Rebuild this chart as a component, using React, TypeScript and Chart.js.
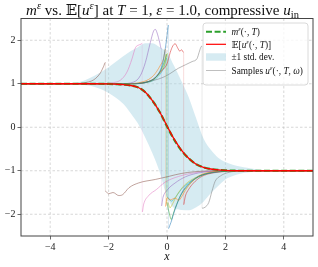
import React, { useEffect, useRef } from 'react';
import { Chart, registerables } from 'chart.js';

Chart.register(...registerables);

// ---------- data ----------
const xRange = [-5, 5];
const yRange = [-2.5, 2.5];
const xTicks = [-4, -2, 0, 2, 4];
const yTicks = [-2, -1, 0, 1, 2];

// mean E[u^eps(.,T)] and m^eps(.,T)
const meanX = [-5, -2.5, -2, -1.75, -1.5, -1.25, -1, -0.75, -0.5, -0.25, 0, 0.25, 0.5, 0.75, 1, 1.25, 1.5, 1.75, 2, 2.5, 5];
const meanY = [1, 1, 0.997, 0.99, 0.98, 0.96, 0.92, 0.81, 0.61, 0.35, 0.03, -0.28, -0.53, -0.72, -0.85, -0.92, -0.96, -0.98, -0.99, -1, -1];
const mEpsY = [1, 1, 0.997, 0.99, 0.98, 0.96, 0.92, 0.81, 0.61, 0.35, 0.02, -0.29, -0.54, -0.72, -0.85, -0.92, -0.96, -0.98, -0.99, -1, -1];

// +-1 std band
const bandX = [-5, -3.5, -3, -2.5, -2, -1.5, -1.25, -1, -0.75, -0.5, -0.25, 0, 0.25, 0.5, 0.75, 1, 1.25, 1.5, 1.75, 2, 2.25, 2.5, 2.75, 3, 3.5, 5];
const bandUpper = [1, 1, 1.04, 1.18, 1.38, 1.63, 1.75, 1.84, 1.93, 1.93, 1.84, 1.72, 1.4, 1.05, 0.68, 0.2, -0.26, -0.52, -0.7, -0.8, -0.86, -0.9, -0.93, -0.96, -0.995, -1];
const bandLower = [1, 1, 0.98, 0.93, 0.79, 0.54, 0.33, 0.09, -0.23, -0.6, -1.03, -1.6, -1.86, -1.9, -1.91, -1.84, -1.71, -1.52, -1.35, -1.2, -1.12, -1.07, -1.04, -1.02, -1, -1];

// sample paths u^eps(.,T,omega) as [x, y] pairs
const sampleBlue: [number, number][] = [[-5, 1], [-1.3, 1], [-0.68, 1.04], [-0.34, 1.19], [-0.17, 1.42], [-0.06, 1.8], [0, 2.1], [0.05, 2.35], [0.05, -2.33], [0.1, -2.25], [0.17, -2.12], [0.23, -1.98], [0.34, -1.77], [0.51, -1.5], [0.74, -1.3], [1.08, -1.13], [1.5, -1.05], [2, -1.01], [2.5, -1], [5, -1]];
const sampleOrange: [number, number][] = [[-5, 1], [-1.5, 1], [-0.8, 1.05], [-0.46, 1.19], [-0.23, 1.42], [-0.12, 1.57], [-0.05, 1.8], [-0.05, -1.82], [-0.02, -1.7], [0, -1.62], [0.11, -1.67], [0.28, -1.63], [0.4, -1.68], [0.5, -1.6], [0.63, -1.45], [0.86, -1.25], [1.14, -1.1], [1.5, -1.03], [2, -1.01], [2.5, -1], [5, -1]];
const sampleGreen: [number, number][] = [[-5, 1], [-1.4, 1], [-0.7, 1.04], [-0.35, 1.17], [-0.15, 1.4], [-0.05, 1.6], [-0.02, 1.68], [-0.02, -1.72], [0.06, -1.93], [0.15, -2.12], [0.2, -2.02], [0.28, -1.86], [0.46, -1.58], [0.7, -1.35], [1.03, -1.16], [1.4, -1.06], [2, -1.01], [2.5, -1], [5, -1]];
const sampleRed: [number, number][] = [[-5, 1], [-1.2, 1], [-0.46, 1.11], [-0.23, 1.27], [0, 1.46], [0.11, 1.72], [0.2, 1.87], [0.28, 1.92], [0.36, 1.83], [0.44, 1.75], [0.5, 1.78], [0.57, 1.72], [0.57, -1.78], [0.6, -1.68], [0.63, -1.58], [0.74, -1.43], [0.91, -1.28], [1.14, -1.15], [1.43, -1.07], [1.8, -1.03], [2.3, -1], [5, -1]];
const samplePurple: [number, number][] = [[-5, 1], [-1.6, 1], [-1.14, 1.04], [-0.91, 1.19], [-0.74, 1.49], [-0.57, 1.95], [-0.46, 2.21], [-0.4, 2.25], [-0.34, 2.17], [-0.25, 1.95], [-0.19, 1.8], [-0.19, -1.81], [-0.14, -1.62], [0, -1.45], [0.28, -1.28], [0.63, -1.14], [1.08, -1.05], [1.6, -1.01], [2.2, -1], [5, -1]];
const sampleBrown: [number, number][] = [[-5, 1], [-3.2, 1], [-2.86, 1.02], [-2.51, 1.09], [-2.28, 1.25], [-2.17, 1.4], [-2.11, 1.49], [-2.11, -1.47], [-2, -1.53], [-1.85, -1.5], [-1.65, -1.57], [-1.52, -1.55], [-1.3, -1.39], [-0.97, -1.28], [-0.4, -1.2], [0, -1.14], [0.3, -1.09], [0.7, -1.04], [1.2, -1.01], [2, -1], [5, -1]];
const samplePink: [number, number][] = [[-5, 1], [-2.2, 1], [-1.9, 1.02], [-1.6, 1.08], [-1.37, 1.27], [-1.2, 1.57], [-1.08, 1.83], [-0.97, 1.89], [-0.89, 1.91], [-0.85, 1.93], [-0.85, -1.95], [-0.8, -1.77], [-0.64, -1.58], [-0.36, -1.43], [-0.06, -1.26], [0.4, -1.13], [0.9, -1.05], [1.4, -1.01], [2, -1], [5, -1]];
const sampleGray: [number, number][] = [[-5, 1], [-1.2, 1], [-0.5, 1.07], [-0.06, 1.17], [0.4, 1.36], [0.86, 1.51], [1.03, 1.58], [1.1, 1.72], [1.16, 1.84], [1.2, 1.87], [1.2, -1.86], [1.3, -1.84], [1.43, -1.73], [1.54, -1.47], [1.65, -1.24], [1.83, -1.12], [2.05, -1.05], [2.35, -1.01], [2.8, -1], [5, -1]];
const sampleOlive: [number, number][] = [[-5, 1], [-1.3, 1], [-0.6, 1.05], [-0.3, 1.2], [-0.1, 1.42], [0.02, 1.7], [0.02, -1.72], [0.1, -1.85], [0.2, -1.75], [0.35, -1.55], [0.6, -1.33], [1, -1.15], [1.5, -1.04], [2.2, -1], [5, -1]];
const sampleCyan: [number, number][] = [[-5, 1], [-1.3, 1], [-0.6, 1.04], [-0.3, 1.17], [-0.1, 1.38], [0, 1.6], [0, -1.6], [0.15, -1.7], [0.3, -1.6], [0.5, -1.42], [0.8, -1.25], [1.2, -1.1], [1.7, -1.02], [2.3, -1], [5, -1]];

const samples = [
  { pts: sampleBlue, rgb: '31,119,180' },
  { pts: sampleOrange, rgb: '255,127,14' },
  { pts: sampleGreen, rgb: '44,160,44' },
  { pts: sampleRed, rgb: '214,39,40' },
  { pts: samplePurple, rgb: '148,103,189' },
  { pts: sampleBrown, rgb: '140,86,75' },
  { pts: samplePink, rgb: '227,119,194' },
  { pts: sampleGray, rgb: '127,127,127' },
  { pts: sampleOlive, rgb: '188,189,34' },
  { pts: sampleCyan, rgb: '23,190,207' },
];

// ---------- rich text helper ----------
type Seg = { t: string; it?: boolean; sup?: boolean; sub?: boolean };
const SERIF = '"Liberation Serif", "DejaVu Serif", serif';
const fontFor = (s: Seg, size: number) =>
  `${s.it ? 'italic ' : ''}${s.sup || s.sub ? size * 0.7 : size}px ${SERIF}`;
function measureRich(ctx: CanvasRenderingContext2D, segs: Seg[], size: number) {
  let w = 0;
  for (const s of segs) {
    ctx.font = fontFor(s, size);
    w += ctx.measureText(s.t).width;
  }
  return w;
}
function drawRich(ctx: CanvasRenderingContext2D, segs: Seg[], x: number, y: number, size: number) {
  let cx = x;
  ctx.textBaseline = 'alphabetic';
  ctx.textAlign = 'left';
  for (const s of segs) {
    ctx.font = fontFor(s, size);
    const dy = s.sup ? -size * 0.4 : s.sub ? size * 0.22 : 0;
    ctx.fillText(s.t, cx, y + dy);
    cx += ctx.measureText(s.t).width;
  }
}

const titleSegs: Seg[] = [
  { t: 'm', it: true }, { t: 'ε', it: true, sup: true }, { t: ' vs. 𝔼[' }, { t: 'u', it: true },
  { t: 'ε', it: true, sup: true }, { t: '] at ' }, { t: 'T', it: true }, { t: ' = 1, ' },
  { t: 'ε', it: true }, { t: ' = 1.0, compressive ' }, { t: 'u', it: true }, { t: 'in', sub: true },
];
const legendItems: { segs: Seg[]; kind: string }[] = [
  { kind: 'dash', segs: [{ t: 'm', it: true }, { t: 'ε', it: true, sup: true }, { t: '(·, ' }, { t: 'T', it: true }, { t: ')' }] },
  { kind: 'red', segs: [{ t: '𝔼[' }, { t: 'u', it: true }, { t: 'ε', it: true, sup: true }, { t: '(·, ' }, { t: 'T', it: true }, { t: ')]' }] },
  { kind: 'band', segs: [{ t: '±1 std. dev.' }] },
  { kind: 'sample', segs: [{ t: 'Samples ' }, { t: 'u', it: true }, { t: 'ε', it: true, sup: true }, { t: '(·, ' }, { t: 'T', it: true }, { t: ', ' }, { t: 'ω', it: true }, { t: ')' }] },
];

const fmt = (v: number) => (v < 0 ? '\u2212' + Math.abs(v) : String(v));

export default function App() {
  const ref = useRef<HTMLCanvasElement | null>(null);
  useEffect(() => {
    const canvas = ref.current;
    if (!canvas) return;
    const pts = (xs: number[], ys: number[]) => xs.map((x, i) => ({ x, y: ys[i] }));

    const decor = {
      id: 'decor',
      beforeDatasetsDraw(chart: any) {
        const { ctx, chartArea: a, scales } = chart;
        ctx.save();
        ctx.strokeStyle = 'rgba(170,170,170,0.6)';
        ctx.lineWidth = 0.8;
        ctx.setLineDash([2.5, 2]);
        for (const v of xTicks) {
          const px = scales.x.getPixelForValue(v);
          ctx.beginPath(); ctx.moveTo(px, a.top); ctx.lineTo(px, a.bottom); ctx.stroke();
        }
        for (const v of yTicks) {
          const py = scales.y.getPixelForValue(v);
          ctx.beginPath(); ctx.moveTo(a.left, py); ctx.lineTo(a.right, py); ctx.stroke();
        }
        ctx.restore();
      },
      afterDatasetsDraw(chart: any) {
        const { ctx, chartArea: a } = chart;
        ctx.save();
        // frame
        ctx.strokeStyle = '#444';
        ctx.lineWidth = 1;
        ctx.setLineDash([]);
        ctx.strokeRect(a.left, a.top, a.right - a.left, a.bottom - a.top);
        // title
        ctx.fillStyle = '#111';
        const base = 13;
        const w0 = measureRich(ctx, titleSegs, base);
        const size = Math.min(15, base * (285 / w0));
        const tw = measureRich(ctx, titleSegs, size);
        drawRich(ctx, titleSegs, 162.5 - tw / 2, 14.5, size);
        // x label
        ctx.font = `italic 12px ${SERIF}`;
        ctx.textAlign = 'center';
        ctx.textBaseline = 'alphabetic';
        ctx.fillText('x', (a.left + a.right) / 2, 260);
        // legend
        const bx = 203, by = 23, bw = 105, bh = 62, r = 3;
        ctx.beginPath();
        ctx.moveTo(bx + r, by);
        ctx.arcTo(bx + bw, by, bx + bw, by + bh, r);
        ctx.arcTo(bx + bw, by + bh, bx, by + bh, r);
        ctx.arcTo(bx, by + bh, bx, by, r);
        ctx.arcTo(bx, by, bx + bw, by, r);
        ctx.closePath();
        ctx.fillStyle = 'rgba(255,255,255,0.8)';
        ctx.fill();
        ctx.strokeStyle = '#d0d0d0';
        ctx.lineWidth = 0.8;
        ctx.stroke();
        const rowY = [31.7, 44.3, 57, 70.5];
        legendItems.forEach((it, i) => {
          const y = rowY[i];
          ctx.save();
          if (it.kind === 'dash') {
            ctx.strokeStyle = '#2ca02c'; ctx.lineWidth = 2; ctx.setLineDash([6, 2.6]);
            ctx.beginPath(); ctx.moveTo(206, y); ctx.lineTo(226, y); ctx.stroke();
          } else if (it.kind === 'red') {
            ctx.strokeStyle = 'red'; ctx.lineWidth = 1.2;
            ctx.beginPath(); ctx.moveTo(206, y); ctx.lineTo(226, y); ctx.stroke();
          } else if (it.kind === 'band') {
            ctx.fillStyle = 'rgba(173,216,230,0.5)';
            ctx.fillRect(206, y - 3.7, 20, 7.4);
          } else {
            ctx.strokeStyle = 'rgba(128,128,128,0.5)'; ctx.lineWidth = 1;
            ctx.beginPath(); ctx.moveTo(206, y); ctx.lineTo(226, y); ctx.stroke();
          }
          ctx.restore();
          ctx.fillStyle = '#111';
          drawRich(ctx, it.segs, 231.5, y + 3.2, 9.3);
        });
        ctx.restore();
      },
    };

    const sampleSets = samples.map((s) => ({
      label: 'sample',
      data: s.pts.map(([x, y]) => ({ x, y })),
      borderColor: `rgba(${s.rgb},0.6)`,
      borderWidth: 0.9,
      pointRadius: 0,
      fill: false,
      cubicInterpolationMode: 'monotone' as const,
      segment: {
        borderColor: (c: any) => (c.p0.parsed.x === c.p1.parsed.x ? `rgba(${s.rgb},0.18)` : undefined),
      },
    }));

    const chart = new Chart(canvas, {
      type: 'line',
      data: {
        datasets: [
          { label: 'mean', data: pts(meanX, meanY), borderColor: 'red', borderWidth: 1.3, pointRadius: 0, fill: false, cubicInterpolationMode: 'monotone' },
          { label: 'm', data: pts(meanX, mEpsY), borderColor: '#2ca02c', borderWidth: 2.2, borderDash: [6, 2.6], pointRadius: 0, fill: false, cubicInterpolationMode: 'monotone' },
          ...sampleSets,
          { label: 'upper', data: pts(bandX, bandUpper), borderColor: 'transparent', borderWidth: 0, pointRadius: 0, fill: '+1', backgroundColor: 'rgba(173,216,230,0.5)', cubicInterpolationMode: 'monotone' },
          { label: 'lower', data: pts(bandX, bandLower), borderColor: 'transparent', borderWidth: 0, pointRadius: 0, fill: false, cubicInterpolationMode: 'monotone' },
        ] as any,
      },
      options: {
        animation: false,
        responsive: false,
        devicePixelRatio: 1,
        events: [],
        layout: { padding: { left: 0, right: 5, top: 18.5, bottom: 0 } },
        plugins: { legend: { display: false }, title: { display: false }, tooltip: { enabled: false } },
        scales: {
          x: {
            type: 'linear',
            min: xRange[0],
            max: xRange[1],
            afterFit: (s: any) => { s.height = 31; },
            afterBuildTicks: (s: any) => { s.ticks = xTicks.map((v) => ({ value: v })); },
            grid: { display: true, drawOnChartArea: false, drawTicks: true, tickLength: 3.5, tickColor: '#444', tickWidth: 0.8 },
            border: { display: false },
            ticks: { callback: (v: any) => fmt(Number(v)), color: '#222', font: { family: SERIF, size: 10 }, padding: 1.5, maxRotation: 0, autoSkip: false },
          },
          y: {
            type: 'linear',
            min: yRange[0],
            max: yRange[1],
            afterFit: (s: any) => { s.width = 21; },
            afterBuildTicks: (s: any) => { s.ticks = yTicks.map((v) => ({ value: v })); },
            grid: { display: true, drawOnChartArea: false, drawTicks: true, tickLength: 3.5, tickColor: '#444', tickWidth: 0.8 },
            border: { display: false },
            ticks: { callback: (v: any) => fmt(Number(v)), color: '#222', font: { family: SERIF, size: 10 }, padding: 2, autoSkip: false },
          },
        },
      },
      plugins: [decor],
    });
    return () => chart.destroy();
  }, []);

  return (
    <div style={{ position: 'fixed', left: 0, top: 0, width: 318, height: 267, background: '#fff' }}>
      <canvas ref={ref} width={318} height={267} style={{ width: 318, height: 267, display: 'block' }} />
    </div>
  );
}
